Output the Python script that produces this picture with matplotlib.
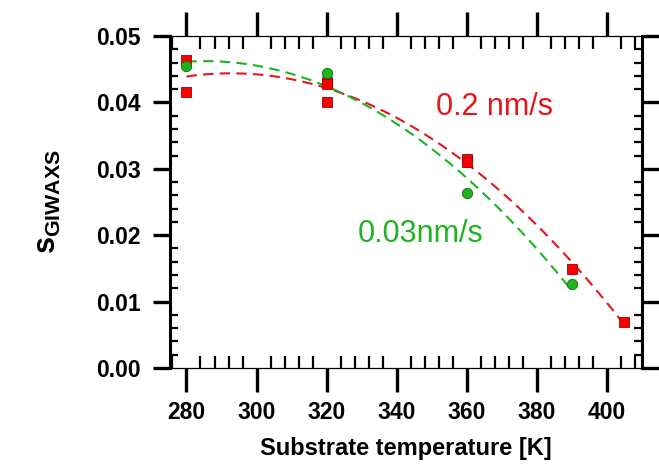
import numpy as np
import matplotlib
matplotlib.use('Agg')
import matplotlib.pyplot as plt
from matplotlib.ticker import MultipleLocator

plt.rcParams['font.family'] = 'Liberation Sans'
plt.rcParams['mathtext.fontset'] = 'custom'
plt.rcParams['mathtext.rm'] = 'Liberation Sans'
plt.rcParams['mathtext.bf'] = 'Liberation Sans:bold'

# 0.2 nm/s (red squares)
t_fast = [280, 280, 320, 320, 320, 360, 360, 390, 405]
s_fast = [0.0464, 0.0415, 0.0431, 0.0428, 0.0401, 0.0315, 0.0310, 0.0149, 0.0070]
# 0.03 nm/s (green circles)
t_slow = [280, 320, 360, 390]
s_slow = [0.0455, 0.0444, 0.0263, 0.0126]

red = '#e8141c'
green = '#1fb31f'

fig = plt.figure(figsize=(6.59, 4.71), dpi=100)
ax = fig.add_axes([170/659, 1 - 368/471, 472/659, 332/471])

# quadratic fits, as in the original
p_fast = np.polyfit(t_fast, s_fast, 2)
p_slow = np.polyfit(t_slow, s_slow, 2)
xf = np.linspace(280, 405, 200)
xs = np.linspace(280, 390, 200)
ax.plot(xf, np.polyval(p_fast, xf), ls=(0, (5, 3)), color=red, lw=1.5, zorder=2)
ax.plot(xs, np.polyval(p_slow, xs), ls=(0, (5, 3)), color=green, lw=1.5, zorder=2)

ax.plot(t_fast, s_fast, 's', color='#ff0000', mec='#a00000', mew=0.6, ms=7, zorder=3)
ax.plot(t_slow, s_slow, 'o', color=green, mec='#107010', mew=0.6, ms=7.5, zorder=4)

ax.text(368, 0.0393, '0.2 nm/s', color=red, fontsize=22, ha='center', va='center')
ax.text(346.8, 0.0202, '0.03nm/s', color=green, fontsize=22, ha='center', va='center')

ax.set_xlim(275.3, 410)
ax.set_ylim(0, 0.05)
ax.xaxis.set_major_locator(MultipleLocator(20))
ax.xaxis.set_minor_locator(MultipleLocator(4))
ax.yaxis.set_major_locator(MultipleLocator(0.01))
ax.yaxis.set_minor_locator(MultipleLocator(0.002))
ax.yaxis.set_major_formatter(plt.FuncFormatter(lambda v, p: f'{v:.2f}'))

ax.spines['left'].set_linewidth(2.2)
ax.spines['right'].set_linewidth(2.2)
ax.spines['top'].set_linewidth(0.9)
ax.spines['bottom'].set_linewidth(0.9)

ax.tick_params(axis='x', which='major', direction='out', length=17, width=2.4,
               top=True, bottom=True, labelsize=16.5, pad=7)
ax.tick_params(axis='x', which='minor', direction='in', length=9, width=1.6,
               top=True, bottom=True)
ax.tick_params(axis='y', which='major', direction='out', length=12, width=2.4,
               left=True, right=True, labelsize=16.5, pad=9)
ax.tick_params(axis='y', which='minor', direction='in', length=5.5, width=1.6,
               left=True, right=True)
for lab in ax.get_xticklabels() + ax.get_yticklabels():
    lab.set_fontweight('bold')

ax.set_xlabel('Substrate temperature [K]', fontsize=17, fontweight='bold', labelpad=9)
ax.set_ylabel(r'$\mathbf{s}_{\mathbf{GIWAXS}}$', fontsize=22, labelpad=24)

fig.savefig('out.png', dpi=100, facecolor='white')
